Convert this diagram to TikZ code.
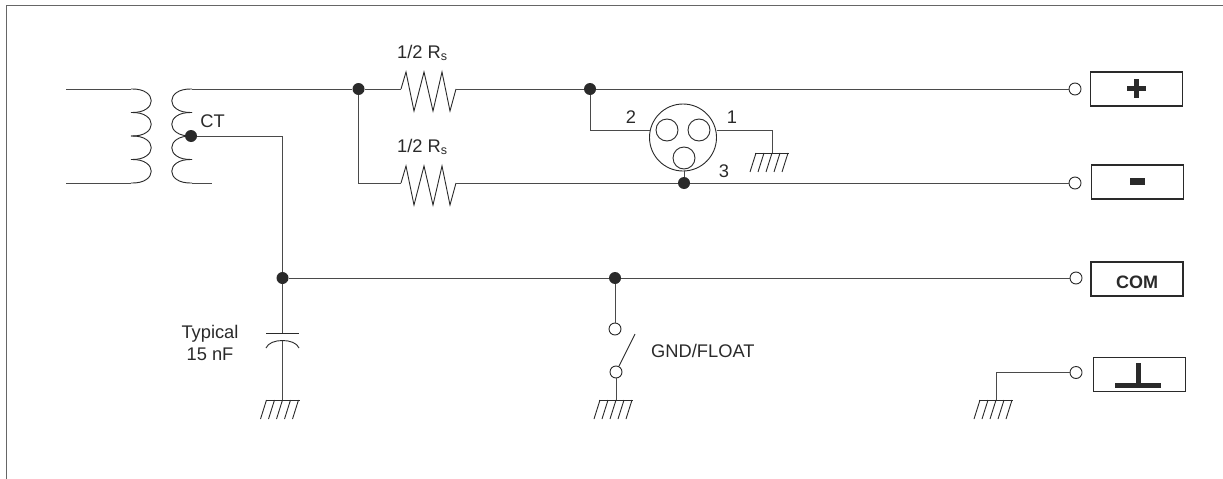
\documentclass[tikz,border=0pt]{standalone}
\usepackage{fontspec}
\setmainfont{Liberation Sans}
\definecolor{ink}{HTML}{2A2A2A}
\newcommand{\Rsub}{R\raisebox{-2.5pt}{\fontsize{12.5}{12.5}\selectfont s}}
\tikzset{
  wire/.style={draw=ink!85,line width=1pt},
  dotj/.style={circle,fill=ink,draw=none,inner sep=0pt,minimum size=12pt},
  opent/.style={circle,fill=white,draw=ink,line width=.9pt,inner sep=0pt,minimum size=12pt},
  termbox/.style={rectangle,draw=ink,line width=1.6pt,fill=white,minimum width=92pt,minimum height=34pt,inner sep=0pt},
  lbl/.style={text=ink,inner sep=0pt,font=\fontsize{18.3}{21.3}\selectfont},
  shell/.style={circle,draw=ink,line width=.9pt,inner sep=0pt,minimum size=67pt},
  pin/.style={circle,draw=ink,line width=.9pt,inner sep=0pt,minimum size=22pt},
  gnd/.pic={
    \draw[draw=ink,line width=.9pt] (-17,0) -- (17,0);
    \foreach \k in {-16,-8,0,8,16}{\draw[draw=ink,line width=.9pt] (\k,0) -- ++(-6,19);}
  }
}
\begin{document}
\begin{tikzpicture}[x=1pt,y=-1pt]
\useasboundingbox (0,0) rectangle (1223,479);
\fill[white] (0,0) rectangle (1223,479);
% frame
\coordinate (fa) at (6.5,479);
\coordinate (fb) at (6.5,5.5);
\coordinate (fc) at (1223,5.5);
\draw[draw=black!60,line width=1.3pt] (fa) -- (fb) -- (fc);

% transformer
\coordinate (pt) at (131,89);
\coordinate (pb) at (131,183);
\coordinate (st) at (192,89);
\coordinate (sb) at (192,183);
\coordinate (pl1) at (66,89);
\coordinate (pl2) at (66,183);
\coordinate (sl2) at (212,183);
\draw[wire] (pl1) -- (pt);
\draw[wire] (pl2) -- (pb);
\draw[wire] (sb) -- (sl2);
\foreach \a in {89,112.5,136,159.5}{
  \draw[draw=ink,line width=.9pt] (131,\a) .. controls (158,\a-1) and (158,\a+24.5) .. (131,\a+23.5);
  \draw[draw=ink,line width=.9pt] (192,\a) .. controls (165,\a-1) and (165,\a+24.5) .. (192,\a+23.5);
}

% junctions
\node[dotj] (ct) at (191,136) {};
\node[dotj] (j1) at (358.5,89) {};
\node[dotj] (j2) at (590,89) {};
\node[dotj] (j3) at (684,183) {};
\node[dotj] (j4) at (282.5,278) {};
\node[dotj] (j5) at (615,278) {};

% terminals
\node[opent] (t1) at (1075,89) {};
\node[opent] (t2) at (1075,183) {};
\node[opent] (t3) at (1076,278) {};
\node[opent] (t4) at (1076,372.5) {};

\node[termbox] (b1) at (1136.5,89) {};
\node[termbox] (b2) at (1137.5,182) {};
\node[termbox] (b3) at (1137,279) {};
\node[termbox] (b4) at (1139.5,374.5) {};
\fill[ink] (1127,86) rectangle (1146,91);
\fill[ink] (1134,79) rectangle (1139,98);
\fill[ink] (1130,178) rectangle (1145,185);
\node[inner sep=0pt,text=ink,font=\fontsize{18}{21}\selectfont\bfseries] (comt) at (1137,282) {COM};
\fill[ink] (1135.5,363) rectangle (1141,388);
\fill[ink] (1115,382.5) rectangle (1160.5,388);

% resistors
\coordinate (r1a) at (401,89);
\coordinate (r1b) at (456,89);
\coordinate (r2a) at (401,183);
\coordinate (r2b) at (456,183);
\draw[draw=ink,line width=.9pt,line join=miter] (r1a) -- ++(5,-17) -- ++(8,39) -- ++(10,-39) -- ++(9,39) -- ++(9,-39) -- ++(8,39) -- (r1b);
\draw[draw=ink,line width=.9pt,line join=miter] (r2a) -- ++(5,-17) -- ++(8,39) -- ++(10,-39) -- ++(9,39) -- ++(9,-39) -- ++(8,39) -- (r2b);

% XLR connector
\node[shell] (xlr) at (683,137.5) {};
\node[pin] (p2) at (667,130) {};
\node[pin] (p1) at (699,130) {};
\node[pin] (p3) at (684,158) {};
\coordinate (x2) at (649.5,130);
\coordinate (x1) at (716.5,130);
\coordinate (x3) at (684,171);

% capacitor
\coordinate (c1) at (282.5,333);
\coordinate (c2) at (282.5,340.5);
\coordinate (c1l) at (266,333);
\coordinate (c1r) at (299,333);
\coordinate (c2l) at (266,348);
\coordinate (c2r) at (299,348);
\draw[draw=ink,line width=.9pt] (c1l) -- (c1r);
\draw[draw=ink,line width=.9pt] (c2l) .. controls (268,343) and (275,340.5) .. (c2) .. controls (290,340.5) and (297,343) .. (c2r);

% switch
\node[opent] (s1) at (615,329) {};
\node[opent] (s2) at (616,372) {};
\coordinate (sw) at (635,334);
\draw[draw=ink,line width=.9pt] (s2) -- (sw);

% grounds
\coordinate (g1) at (282.5,400);
\coordinate (g2) at (616,400);
\coordinate (g3) at (772,153);
\coordinate (g4) at (996,400);
\pic at (g1) {gnd};
\pic at (g2) {gnd};
\pic at (g3) {gnd};
\pic at (g4) {gnd};

% wires
\draw[wire] (st) -- (j1);
\draw[wire] (j1) -- (r1a);
\draw[wire] (r1b) -- (j2);
\draw[wire] (j2) -- (t1);
\draw[wire] (j1) |- (r2a);
\draw[wire] (r2b) -- (j3);
\draw[wire] (j3) -- (t2);
\draw[wire] (j2) |- (x2);
\draw[wire] (x1) -| (g3);
\draw[wire] (x3) -- (j3);
\draw[wire] (ct) -| (j4);
\draw[wire] (j4) -- (j5);
\draw[wire] (j5) -- (t3);
\draw[wire] (j4) -- (c1);
\draw[wire] (c2) -- (g1);
\draw[wire] (j5) -- (s1);
\draw[wire] (s2) -- (g2);
\draw[wire] (t4) -| (g4);

% labels
\node[lbl] (lct) at (212.5,121) {CT};
\node[lbl,anchor=base west] (lr1) at (397,58) {1/2 \Rsub};
\node[lbl,anchor=base west] (lr2) at (397,152) {1/2 \Rsub};
\node[lbl] (l2) at (631,117) {2};
\node[lbl] (l1) at (732,117) {1};
\node[lbl] (l3) at (724,171) {3};
\node[lbl,align=center] (lcap) at (210,343) {Typical\\15 nF};
\node[lbl,anchor=west] (lsw) at (651,351) {GND/FLOAT};
\end{tikzpicture}
\end{document}
